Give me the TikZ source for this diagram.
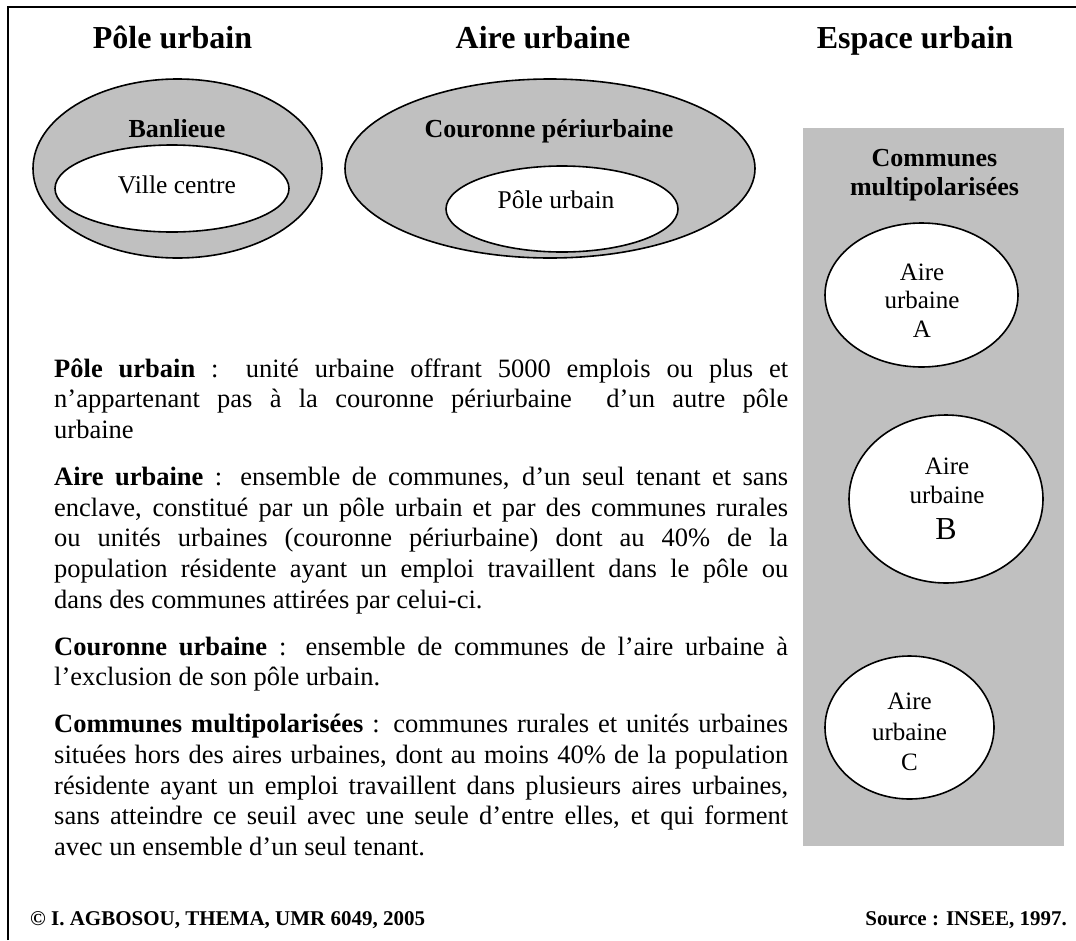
\documentclass[tikz,border=0pt]{standalone}
\usepackage{fontspec}
\setmainfont{Liberation Serif}
\usetikzlibrary{shapes.geometric}
\definecolor{zonegray}{HTML}{C0C0C0}

\begin{document}
\begin{tikzpicture}[x=1pt,y=-1pt,
  title/.style={font=\fontsize{32}{36}\selectfont\bfseries,anchor=base,inner sep=0pt},
  zone/.style={ellipse,draw=black,line width=1.6pt,fill=zonegray,inner sep=0pt,outer sep=0pt},
  core/.style={ellipse,draw=black,line width=1.6pt,fill=white,inner sep=0pt,outer sep=0pt},
  zonelabel/.style={font=\fontsize{26}{30}\selectfont\bfseries,anchor=base,inner sep=0pt},
  corelabel/.style={font=\fontsize{25.5}{30}\selectfont,anchor=base,inner sep=0pt},
  arealabel/.style={font=\fontsize{25}{30}\selectfont,anchor=base,inner sep=0pt},
  arealetter/.style={font=\fontsize{32}{36}\selectfont,anchor=base,inner sep=0pt},
  credits/.style={font=\fontsize{21}{24}\selectfont\bfseries,inner sep=0pt}]
\useasboundingbox (0,0) rectangle (1076,940);
\fill[white] (0,0) rectangle (1076,940);

% frame (top and left rules)
\coordinate (fl) at (8,940);
\coordinate (fc) at (8,7);
\coordinate (fr) at (1076,7);
\draw[line width=2.5pt] (fl) -- (fc) -- (fr);

% column titles
\node[title] (tpole) at (172.5,48) {Pôle urbain};
\node[title] (taire) at (543,48) {Aire urbaine};
\node[title] (tesp) at (915,48) {Espace urbain};

% pole urbain: banlieue around the central city
\node[zone,minimum width=289,minimum height=179] (banl) at (177.5,168.5) {};
\node[core,minimum width=234,minimum height=87] (ville) at (172,188.5) {};
\node[zonelabel] (lbanl) at (177,137) {Banlieue};
\node[corelabel] (lville) at (177,193) {Ville centre};

% aire urbaine: periurban ring around the urban pole
\node[zone,minimum width=410,minimum height=179] (cour) at (550,168.5) {};
\node[core,minimum width=232,minimum height=86] (pole) at (562,209) {};
\node[zonelabel] (lcour) at (549,137) {Couronne périurbaine};
\node[corelabel] (lpole) at (556,208) {Pôle urbain};

% espace urbain: multipolarised communes between several urban areas
\node[fill=zonegray,minimum width=261,minimum height=718,inner sep=0pt,outer sep=0pt,anchor=north west] (panel) at (803,128) {};
\node[zonelabel] (lmulti1) at (934.5,166) {Communes};
\node[zonelabel] (lmulti2) at (934.5,195) {multipolarisées};

\node[core,minimum width=193,minimum height=144] (aa) at (921.5,295) {};
\node[arealabel] (aa1) at (922,280) {Aire};
\node[arealabel] (aa2) at (922,308.5) {urbaine};
\node[arealabel] (aa3) at (922,337) {A};

\node[core,minimum width=194,minimum height=168] (ab) at (946,499) {};
\node[arealabel] (ab1) at (947,474) {Aire};
\node[arealabel] (ab2) at (947,503.5) {urbaine};
\node[arealetter] (ab3) at (946,539) {B};

\node[core,minimum width=169,minimum height=143] (ac) at (909.5,727.5) {};
\node[arealabel] (ac1) at (909.5,709) {Aire};
\node[arealabel] (ac2) at (909.5,740) {urbaine};
\node[arealabel] (ac3) at (909.5,770) {C};

% definitions
\node[anchor=base west,text width=734pt,align=justify,inner sep=0pt,
      font=\fontsize{26.5}{30.75}\selectfont] (defs) at (54,377) {%
\parindent=0pt
\textbf{Pôle urbain} : unité urbaine offrant 5000 emplois ou plus et\linebreak
n’appartenant pas à la couronne périurbaine\ \ d’un autre pôle\linebreak
urbaine\par\vspace{16pt}
\textbf{Aire urbaine} : ensemble de communes, d’un seul tenant et sans\linebreak
enclave, constitué par un pôle urbain et par des communes rurales\linebreak
ou unités urbaines (couronne périurbaine) dont au 40\% de la\linebreak
population résidente ayant un emploi travaillent dans le pôle ou\linebreak
dans des communes attirées par celui-ci.\par\vspace{16pt}
\textbf{Couronne urbaine} : ensemble de communes de l’aire urbaine à\linebreak
l’exclusion de son pôle urbain.\par\vspace{16pt}
\textbf{Communes multipolarisées} : communes rurales et unités urbaines\linebreak
situées hors des aires urbaines, dont au moins 40\% de la population\linebreak
résidente ayant un emploi travaillent dans plusieurs aires urbaines,\linebreak
sans atteindre ce seuil avec une seule d’entre elles, et qui forment\linebreak
avec un ensemble d’un seul tenant.\par};

% credits
\node[credits,anchor=base west] (credit) at (30,925) {© I. AGBOSOU, THEMA, UMR 6049, 2005};
\node[credits,anchor=base east] (source) at (1067,925) {Source : INSEE, 1997.};
\end{tikzpicture}
\end{document}
